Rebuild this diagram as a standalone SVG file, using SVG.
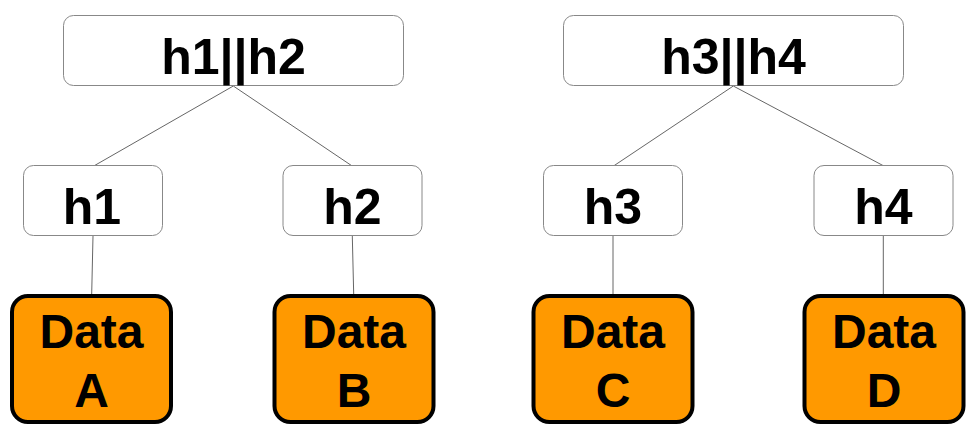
<svg xmlns="http://www.w3.org/2000/svg" width="967" height="426" viewBox="0 0 967 426">
<style>
.hash{fill:#fff;stroke:#888;stroke-width:1}
.data{fill:#ff9900;stroke:#000;stroke-width:4}
.lbl{font-family:"Liberation Sans",Arial,sans-serif;font-weight:bold;fill:#000;text-anchor:middle}
.big{font-size:50px}
.dat{font-size:48px}
.con line{stroke:#666;stroke-width:1}
</style>
<rect width="967" height="426" fill="#fff"/>
<g class="con">
<line x1="233.3" y1="86" x2="94.3" y2="165.7"/>
<line x1="233.3" y1="86" x2="351.7" y2="165.7"/>
<line x1="93" y1="236" x2="91.7" y2="294"/>
<line x1="352.3" y1="236" x2="353.7" y2="294"/>
<line x1="733.3" y1="86" x2="614" y2="165.7"/>
<line x1="733.3" y1="86" x2="883.3" y2="165.7"/>
<line x1="613" y1="236" x2="613" y2="294"/>
<line x1="883.3" y1="236" x2="883.3" y2="294"/>
</g>
<g id="h12"><rect class="hash" x="63.5" y="15.5" width="340" height="70" rx="10"/><text class="lbl big" x="233.5" y="74">h1||h2</text></g>
<g id="h34"><rect class="hash" x="563.5" y="15.5" width="340" height="70" rx="10"/><text class="lbl big" x="733.5" y="74">h3||h4</text></g>
<g id="h1"><rect class="hash" x="23.5" y="165.5" width="139" height="70" rx="10"/><text class="lbl big" x="92" y="224">h1</text></g>
<g id="h2"><rect class="hash" x="283" y="165.5" width="139" height="70" rx="10"/><text class="lbl big" x="352.5" y="224">h2</text></g>
<g id="h3"><rect class="hash" x="543.5" y="165.5" width="139" height="70" rx="10"/><text class="lbl big" x="613" y="224">h3</text></g>
<g id="h4"><rect class="hash" x="814" y="165.5" width="139" height="70" rx="10"/><text class="lbl big" x="883.5" y="224">h4</text></g>
<g id="dA"><rect class="data" x="12" y="296" width="159" height="126" rx="16"/><text class="lbl dat" x="91.5" y="347.5">Data</text><text class="lbl dat" x="91.5" y="406.5">A</text></g>
<g id="dB"><rect class="data" x="274.5" y="296" width="159" height="126" rx="16"/><text class="lbl dat" x="354" y="347.5">Data</text><text class="lbl dat" x="354" y="406.5">B</text></g>
<g id="dC"><rect class="data" x="533.5" y="296" width="159" height="126" rx="16"/><text class="lbl dat" x="613" y="347.5">Data</text><text class="lbl dat" x="613" y="406.5">C</text></g>
<g id="dD"><rect class="data" x="804.5" y="296" width="159" height="126" rx="16"/><text class="lbl dat" x="884" y="347.5">Data</text><text class="lbl dat" x="884" y="406.5">D</text></g>
</svg>
